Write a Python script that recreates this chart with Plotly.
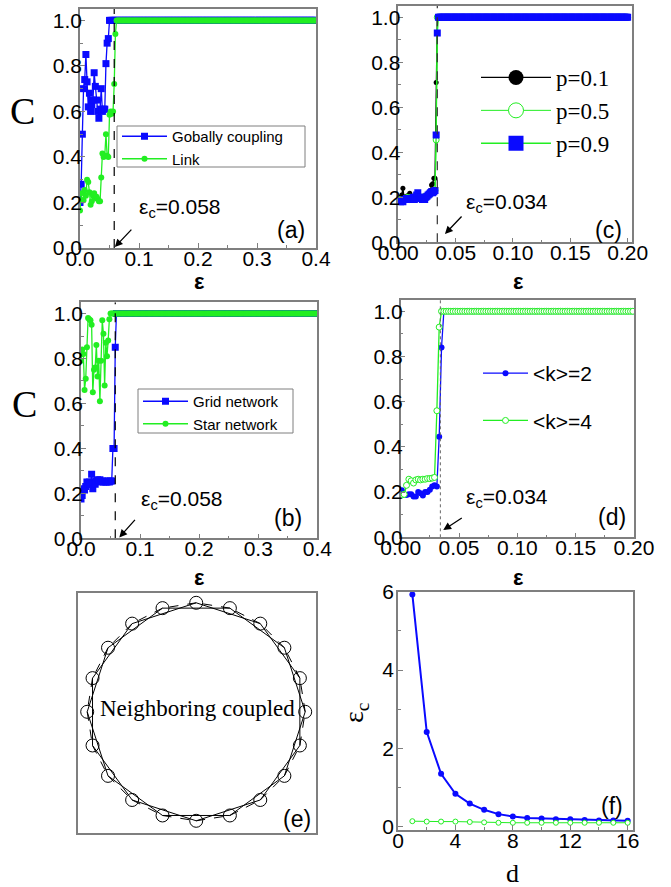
import math
import plotly.graph_objects as go

# ---------------- data ----------------
eps_ab = [round(0.002 * i, 3) for i in range(201)]
C_a_global_low = [0.20, 0.28, 0.50, 0.70, 0.74, 0.85, 0.73, 0.62, 0.68, 0.60, 0.63, 0.65, 0.77,
                  0.71, 0.65, 0.60, 0.57, 0.61, 0.70, 0.60, 0.61, 0.61, 0.81, 0.90, 0.92]
C_a_link_low = [0.165, 0.24, 0.21, 0.21, 0.255, 0.23, 0.30, 0.29, 0.245, 0.19, 0.205, 0.23, 0.24,
                0.22, 0.225, 0.215, 0.205, 0.205, 0.31, 0.415, 0.40, 0.405, 0.50, 0.405, 0.40,
                0.585, 0.60, 0.59, 0.60, 0.72, 0.94]
C_b_grid_low = [0.175, 0.19, 0.22, 0.215, 0.23, 0.25, 0.24, 0.25, 0.24, 0.285, 0.22, 0.25, 0.24,
                0.255, 0.26, 0.255, 0.26, 0.25, 0.255, 0.25, 0.255, 0.25, 0.25, 0.255, 0.25, 0.255,
                0.255, 0.40, 0.40, 0.85]
C_b_star_low = [0.79, 0.84, 0.82, 0.66, 0.71, 0.85, 0.98, 0.975, 0.97, 0.95, 0.65, 0.75, 0.76,
                0.86, 0.72, 0.79, 0.61, 0.79, 0.97, 0.91, 0.68, 0.87, 0.81, 0.88, 0.975]

eps_c = [round(0.001 * i, 3) for i in range(201)]
C_c_p01_low = [0.19, 0.19, 0.20, 0.21, 0.24, 0.20, 0.20, 0.205, 0.20, 0.21, 0.218, 0.20, 0.20,
               0.205, 0.20, 0.20, 0.21, 0.215, 0.205, 0.20, 0.20, 0.20, 0.205, 0.20, 0.205, 0.21,
               0.215, 0.22, 0.23, 0.255, 0.26, 0.285, 0.285, 0.71]
C_c_p05_low = [0.18, 0.185, 0.19, 0.185, 0.19, 0.19, 0.195, 0.19, 0.20, 0.195, 0.19, 0.20, 0.195,
               0.20, 0.195, 0.20, 0.20, 0.205, 0.20, 0.20, 0.195, 0.20, 0.20, 0.20, 0.205, 0.20,
               0.21, 0.21, 0.215, 0.22, 0.22, 0.225, 0.23, 0.455]
C_c_p09_low = [0.185, 0.185, 0.18, 0.185, 0.18, 0.19, 0.19, 0.195, 0.19, 0.195, 0.19, 0.195, 0.195,
               0.20, 0.19, 0.20, 0.21, 0.22, 0.20, 0.195, 0.20, 0.19, 0.195, 0.19, 0.20, 0.205,
               0.21, 0.215, 0.22, 0.225, 0.22, 0.225, 0.23, 0.477, 0.93]

eps_d = [round(0.001 + 0.002 * i, 3) for i in range(100)]
C_d_k2_low = [0.208, 0.19, 0.187, 0.19, 0.19, 0.18, 0.18, 0.20, 0.195, 0.185, 0.20, 0.20, 0.21,
              0.225, 0.23, 0.225, 0.445, 0.84]
C_d_k4_low = [0.187, 0.19, 0.23, 0.257, 0.25, 0.24, 0.254, 0.257, 0.254, 0.257, 0.257, 0.26, 0.26,
              0.262, 0.265, 0.56, 0.93]

d_vals = list(range(1, 17))
epsc_blue = [5.93, 2.42, 1.35, 0.84, 0.59, 0.43, 0.32, 0.26, 0.22, 0.21, 0.19, 0.19, 0.17, 0.155,
             0.155, 0.15]
epsc_green = [0.14, 0.13, 0.13, 0.13, 0.12, 0.11, 0.10, 0.10, 0.10, 0.10, 0.10, 0.10, 0.10, 0.10,
              0.10, 0.10]

n_nodes = 20
SYNC = 1.0


def full(low, n):
    return low + [SYNC] * (n - len(low))


C_a_global = full(C_a_global_low, len(eps_ab))
C_a_link = full(C_a_link_low, len(eps_ab))
C_b_grid = full(C_b_grid_low, len(eps_ab))
C_b_star = full(C_b_star_low, len(eps_ab))
C_c_p01 = full(C_c_p01_low, len(eps_c))
C_c_p05 = full(C_c_p05_low, len(eps_c))
C_c_p09 = full(C_c_p09_low, len(eps_c))
C_d_k2 = full(C_d_k2_low, len(eps_d))
C_d_k4 = full(C_d_k4_low, len(eps_d))

# ---------------- style ----------------
W, H = 671, 887
BLUE = "#0a0aff"
GREEN = "#22ee22"
GRAY = "#7f7f7f"
SANS = "Liberation Sans, Arial, sans-serif"
SERIF = "Liberation Serif, Times New Roman, serif"


def px(x):
    return x / W


def py(y):
    return 1 - y / H


fig = go.Figure()

# panel (a)
fig.add_trace(go.Scatter(x=eps_ab, y=C_a_global, mode="lines+markers", name="Gobally coupling",
                         line=dict(color=BLUE, width=1.3), marker=dict(symbol="square", size=7, color=BLUE),
                         xaxis="x", yaxis="y", legend="legend"))
fig.add_trace(go.Scatter(x=eps_ab, y=C_a_link, mode="lines+markers", name="Link",
                         line=dict(color=GREEN, width=1.3), marker=dict(symbol="circle", size=6, color=GREEN),
                         xaxis="x", yaxis="y", legend="legend"))
# panel (c)
fig.add_trace(go.Scatter(x=eps_c, y=C_c_p01, mode="lines+markers", name="p=0.1",
                         line=dict(color="black", width=1.3), marker=dict(symbol="circle", size=5, color="black"),
                         xaxis="x2", yaxis="y2", showlegend=False))
fig.add_trace(go.Scatter(x=eps_c, y=C_c_p05, mode="lines+markers", name="p=0.5",
                         line=dict(color=GREEN, width=1.0),
                         marker=dict(symbol="circle", size=6, color="white", line=dict(color=GREEN, width=1)),
                         xaxis="x2", yaxis="y2", showlegend=False))
fig.add_trace(go.Scatter(x=eps_c, y=C_c_p09, mode="lines+markers", name="p=0.9",
                         line=dict(color=GREEN, width=1.3), marker=dict(symbol="square", size=7, color=BLUE),
                         xaxis="x2", yaxis="y2", showlegend=False))
# legend entries of panel (c) (drawn with larger symbols, no data points)
fig.add_trace(go.Scatter(x=[None], y=[None], mode="lines+markers", name="p=0.1",
                         line=dict(color="black", width=1.3), marker=dict(symbol="circle", size=15, color="black"),
                         xaxis="x2", yaxis="y2", legend="legend2", legendgroup="c1"))
fig.add_trace(go.Scatter(x=[None], y=[None], mode="lines+markers", name="p=0.5",
                         line=dict(color=GREEN, width=1.0),
                         marker=dict(symbol="circle", size=15, color="white", line=dict(color=GREEN, width=1)),
                         xaxis="x2", yaxis="y2", legend="legend2", legendgroup="c2"))
fig.add_trace(go.Scatter(x=[None], y=[None], mode="lines+markers", name="p=0.9",
                         line=dict(color=GREEN, width=1.3), marker=dict(symbol="square", size=15, color=BLUE),
                         xaxis="x2", yaxis="y2", legend="legend2", legendgroup="c3"))
# panel (b)
fig.add_trace(go.Scatter(x=eps_ab, y=C_b_grid, mode="lines+markers", name="Grid network",
                         line=dict(color=BLUE, width=1.3), marker=dict(symbol="square", size=7, color=BLUE),
                         xaxis="x3", yaxis="y3", legend="legend3"))
fig.add_trace(go.Scatter(x=eps_ab, y=C_b_star, mode="lines+markers", name="Star network",
                         line=dict(color=GREEN, width=1.3), marker=dict(symbol="circle", size=6, color=GREEN),
                         xaxis="x3", yaxis="y3", legend="legend3"))
# panel (d)
fig.add_trace(go.Scatter(x=eps_d, y=C_d_k2, mode="lines+markers", name="&lt;k&gt;=2",
                         line=dict(color=BLUE, width=1.3), marker=dict(symbol="circle", size=6, color=BLUE),
                         xaxis="x4", yaxis="y4", legend="legend4", legendgroup="d1"))
fig.add_trace(go.Scatter(x=eps_d, y=C_d_k4, mode="lines+markers", name="&lt;k&gt;=4",
                         line=dict(color=GREEN, width=1.3),
                         marker=dict(symbol="circle", size=6, color="white", line=dict(color=GREEN, width=1)),
                         xaxis="x4", yaxis="y4", legend="legend4", legendgroup="d2"))

# panel (e): ring network
cx, cy, R = 118.2, 120.9, 109.0
ang = [math.pi / 2 + 2 * math.pi * k / n_nodes for k in range(n_nodes)]
nx = [cx + R * math.cos(a) for a in ang]
ny = [cy + R * math.sin(a) for a in ang]
dx, dy, sx, sy = [], [], [], []
for k in range(n_nodes):
    j = (k + 1) % n_nodes
    dx += [nx[k], nx[j], None]
    dy += [ny[k], ny[j], None]
    j2 = (k + 2) % n_nodes
    sx += [nx[k], nx[j2], None]
    sy += [ny[k], ny[j2], None]
fig.add_trace(go.Scatter(x=dx, y=dy, mode="lines", line=dict(color="black", width=1, dash="dash"),
                         xaxis="x5", yaxis="y5", showlegend=False))
fig.add_trace(go.Scatter(x=sx, y=sy, mode="lines", line=dict(color="black", width=1),
                         xaxis="x5", yaxis="y5", showlegend=False))
fig.add_trace(go.Scatter(x=nx, y=ny, mode="markers",
                         marker=dict(symbol="circle-open", size=13, color="black", line=dict(color="black", width=1)),
                         xaxis="x5", yaxis="y5", showlegend=False))

# panel (f)
fig.add_trace(go.Scatter(x=d_vals, y=epsc_blue, mode="lines+markers", line=dict(color=BLUE, width=2),
                         marker=dict(symbol="circle", size=6, color=BLUE), xaxis="x6", yaxis="y6",
                         showlegend=False))
fig.add_trace(go.Scatter(x=d_vals, y=epsc_green, mode="lines+markers", line=dict(color=GREEN, width=1),
                         marker=dict(symbol="circle", size=5, color="white", line=dict(color=GREEN, width=1)),
                         xaxis="x6", yaxis="y6", showlegend=False))


def ax(domain, rng, dtick, mdtick, fmt, anchor, standoff):
    return dict(domain=domain, range=rng, anchor=anchor, showline=True, linecolor=GRAY, linewidth=1.5,
                mirror=True, ticks="inside", ticklen=5, tickcolor=GRAY, tickwidth=1,
                tick0=0, dtick=dtick, tickformat=fmt, ticklabelstandoff=standoff,
                minor=dict(ticks="inside", ticklen=3, tickcolor=GRAY, dtick=mdtick, tick0=0),
                tickfont=dict(family=SANS, size=21, color="black"),
                showgrid=False, zeroline=False, automargin=False, fixedrange=True)


XS, YS = -9, -8
layout = dict(
    width=W, height=H, margin=dict(l=0, r=0, t=0, b=0), template="none",
    paper_bgcolor="white", plot_bgcolor="white",
    xaxis=ax([px(80), px(316)], [0, 0.4], 0.1, 0.05, ".1f", "y", XS),
    yaxis=ax([py(248), py(9)], [0, 1.05], 0.2, 0.1, ".1f", "x", YS),
    xaxis2=ax([px(398.3), px(631.7)], [0, 0.2035], 0.05, 0.025, ".2f", "y2", XS),
    yaxis2=ax([py(242.3), py(6)], [0, 1.05], 0.2, 0.1, ".1f", "x2", YS),
    xaxis3=ax([px(81), px(317.3)], [0, 0.4], 0.1, 0.05, ".1f", "y3", XS),
    yaxis3=ax([py(538.3), py(302.3)], [0, 1.05], 0.2, 0.1, ".1f", "x3", YS),
    xaxis4=ax([px(400.7), px(634)], [0, 0.2], 0.05, 0.025, ".2f", "y4", XS),
    yaxis4=ax([py(537.3), py(300)], [0, 1.05], 0.2, 0.1, ".1f", "x4", YS),
    xaxis5=dict(domain=[px(78), px(316)], range=[0, 238], anchor="y5", showline=True, linecolor=GRAY,
                linewidth=1.5, mirror=True, showticklabels=False, ticks="", showgrid=False,
                zeroline=False, automargin=False, fixedrange=True),
    yaxis5=dict(domain=[py(832.7), py(592.7)], range=[0, 240], anchor="x5", showline=True, linecolor=GRAY,
                linewidth=1.5, mirror=True, showticklabels=False, ticks="", showgrid=False,
                zeroline=False, automargin=False, fixedrange=True),
    xaxis6=ax([px(398), px(632.7)], [0, 16.35], 4, 2, "d", "y6", XS),
    yaxis6=ax([py(830), py(591.7)], [-0.085, 6.0], 2, 1, "d", "x6", -2),
    legend=dict(x=px(117), y=py(120), xanchor="left", yanchor="top", bgcolor="rgba(0,0,0,0)",
                borderwidth=0, font=dict(family=SANS, size=15, color="black"),
                itemwidth=45, tracegroupgap=0),
    legend2=dict(x=px(476), y=py(56), xanchor="left", yanchor="top", bgcolor="rgba(0,0,0,0)",
                 borderwidth=0, font=dict(family=SERIF, size=23, color="black"),
                 itemwidth=70, tracegroupgap=0),
    legend3=dict(x=px(138), y=py(385), xanchor="left", yanchor="top", bgcolor="rgba(0,0,0,0)",
                 borderwidth=0, font=dict(family=SANS, size=15, color="black"),
                 itemwidth=45, tracegroupgap=0),
    legend4=dict(x=px(478), y=py(353), xanchor="left", yanchor="top", bgcolor="rgba(0,0,0,0)",
                 borderwidth=0, font=dict(family=SANS, size=21, color="black"),
                 itemwidth=45, tracegroupgap=17),
)
fig.update_layout(**layout)

# legend frames of panels (a) and (b)
fig.add_shape(type="rect", xref="paper", yref="paper", x0=px(117), x1=px(305), y0=py(167), y1=py(126),
              fillcolor="white", line=dict(color=GRAY, width=1), layer="above")
fig.add_shape(type="rect", xref="paper", yref="paper", x0=px(138), x1=px(293), y0=py(433), y1=py(389),
              fillcolor="white", line=dict(color=GRAY, width=1), layer="above")

# critical-point vertical lines
fig.add_shape(type="line", x0=0.058, x1=0.058, y0=0, y1=1.05, xref="x", yref="y",
              line=dict(color="black", width=1.2, dash="dash"))
fig.add_shape(type="line", x0=0.058, x1=0.058, y0=0, y1=1.05, xref="x3", yref="y3",
              line=dict(color="black", width=1.2, dash="dash"))
fig.add_shape(type="line", x0=0.034, x1=0.034, y0=0, y1=1.05, xref="x2", yref="y2",
              line=dict(color="#333333", width=1.2, dash="dash"))
fig.add_shape(type="line", x0=0.034, x1=0.034, y0=0, y1=1.05, xref="x4", yref="y4",
              line=dict(color="#666666", width=1, dash="dot"))

ann = []


def txt(x, y, text, size, family=SANS, xanchor="center", angle=0):
    ann.append(dict(x=px(x), y=py(y), xref="paper", yref="paper", text=text, showarrow=False,
                    xanchor=xanchor, yanchor="middle", textangle=angle,
                    font=dict(family=family, size=size, color="black")))


def arrow(xr, yr, x, y, axp, ayp):
    ann.append(dict(x=x, y=y, xref=xr, yref=yr, text="", showarrow=True, ax=axp, ay=ayp,
                    arrowhead=2, arrowsize=1.2, arrowwidth=1.3, arrowcolor="black"))


# axis titles
txt(22, 111, "C", 38, SERIF)
txt(24, 404, "C", 38, SERIF)
txt(199, 281, "<b>ε</b>", 22, SANS)
txt(199, 577, "<b>ε</b>", 22, SANS)
txt(518, 281, "<b>ε</b>", 22, SANS)
txt(518, 577, "<b>ε</b>", 22, SANS)
txt(512, 873, "d", 26, SERIF)
txt(355, 713, "ε<sub>c</sub>", 28, SERIF, angle=-90)

# critical value labels
txt(137, 208, "ε<sub>c</sub>=0.058", 21, SANS, xanchor="left")
txt(139, 500, "ε<sub>c</sub>=0.058", 21, SANS, xanchor="left")
txt(464, 203, "ε<sub>c</sub>=0.034", 21, SANS, xanchor="left")
txt(464, 498, "ε<sub>c</sub>=0.034", 21, SANS, xanchor="left")
arrow("x", "y", 0.059, 0.004, 18, -19)
arrow("x3", "y3", 0.0648, 0.004, 17, -19)
arrow("x2", "y2", 0.0407, 0.037, 18, -19)
arrow("x4", "y4", 0.0365, 0.032, 20, -13)

# panel letters
txt(291, 230, "(a)", 23)
txt(608, 230, "(c)", 23)
txt(288, 518, "(b)", 23)
txt(612, 517, "(d)", 23)
txt(297, 819, "(e)", 23)
txt(612, 806, "(f)", 23)

# panel (e) text
txt(197, 708, "Neighboring coupled", 23, SERIF)

fig.update_layout(annotations=ann)
fig.write_html("out.html")
